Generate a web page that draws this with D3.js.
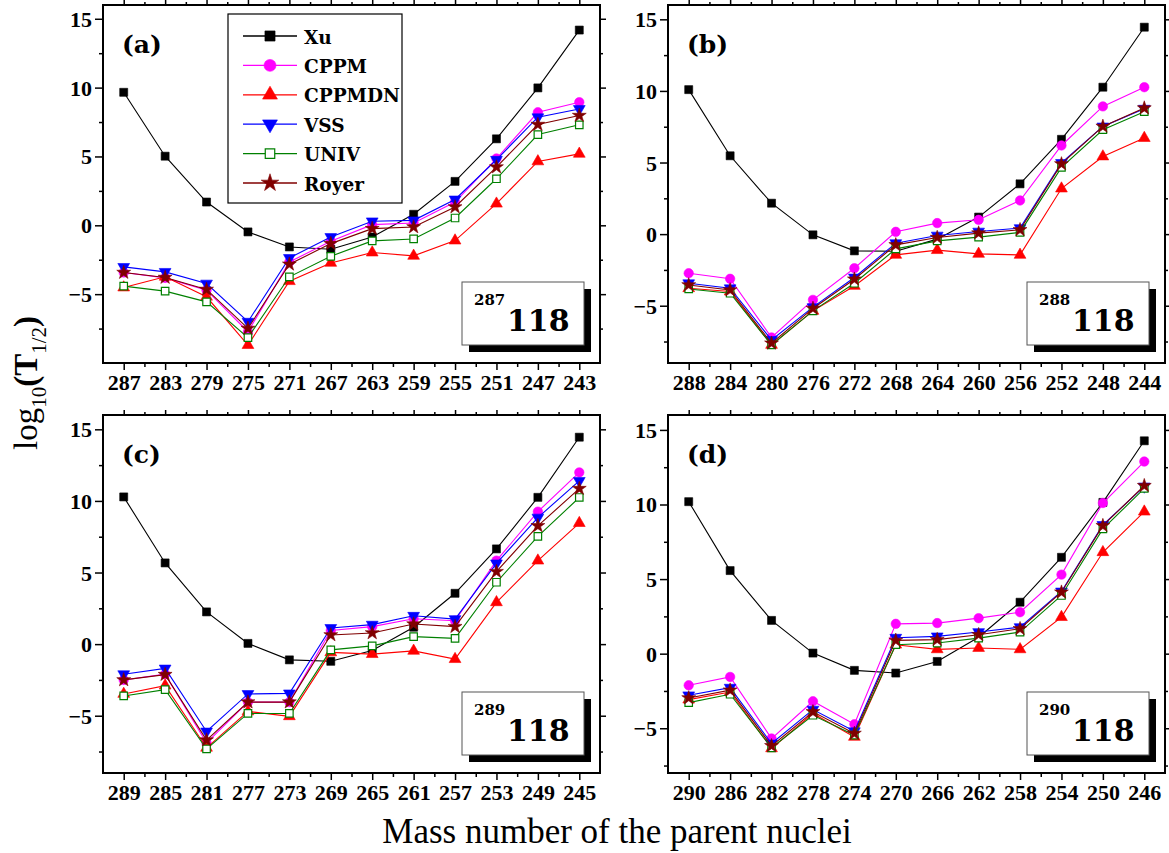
<!DOCTYPE html>
<html>
<head>
<meta charset="utf-8">
<script src="https://cdn.jsdelivr.net/npm/d3@7"></script>
<style>
  body { margin: 0; background: #fff; }
  svg { display: block; }
</style>
</head>
<body>
<svg id="chart" width="1169" height="853" font-family="Liberation Serif, DejaVu Serif, serif"></svg>
<script>
// mass numbers of the parent nuclei, one list per panel
const massA = [287, 283, 279, 275, 271, 267, 263, 259, 255, 251, 247, 243];
const massB = [288, 284, 280, 276, 272, 268, 264, 260, 256, 252, 248, 244];
const massC = [289, 285, 281, 277, 273, 269, 265, 261, 257, 253, 249, 245];
const massD = [290, 286, 282, 278, 274, 270, 266, 262, 258, 254, 250, 246];

// (a) 287-118
const xuA     = [9.66, 5.02, 1.69, -0.48, -1.57, -1.74, -0.85, 0.80, 3.19, 6.28, 9.98, 14.18];
const cppmA   = [-3.43, -3.82, -4.71, -7.73, -2.66, -1.16, 0.05, 0.17, 1.69, 4.85, 8.21, 8.94];
const cppmdnA = [-4.52, -3.74, -5.19, -8.70, -4.06, -2.73, -1.98, -2.22, -1.11, 1.57, 4.64, 5.19];
const vssA    = [-3.02, -3.38, -4.23, -7.00, -2.37, -0.85, 0.29, 0.36, 1.88, 4.76, 7.85, 8.45];
const univA   = [-4.42, -4.78, -5.56, -8.16, -3.74, -2.25, -1.13, -0.99, 0.53, 3.38, 6.59, 7.30];
const royerA  = [-3.43, -3.79, -4.66, -7.49, -2.83, -1.33, -0.24, -0.12, 1.33, 4.23, 7.32, 7.97];

// (b) 288-118
const xuB     = [10.09, 5.47, 2.16, -0.05, -1.17, -1.20, -0.35, 1.19, 3.51, 6.62, 10.26, 14.45];
const cppmB   = [-2.73, -3.12, -7.22, -4.59, -2.38, 0.16, 0.77, 1.00, 2.35, 6.19, 8.92, 10.26];
const cppmdnB = [-3.78, -4.01, -7.74, -5.36, -3.62, -1.45, -1.12, -1.38, -1.45, 3.18, 5.42, 6.71];
const vssB    = [-3.43, -3.78, -7.39, -5.10, -3.03, -0.63, -0.10, 0.18, 0.42, 4.97, 7.52, 8.76];
const univB   = [-3.83, -4.13, -7.74, -5.36, -3.43, -1.03, -0.47, -0.21, 0.12, 4.66, 7.29, 8.55];
const royerB  = [-3.55, -3.90, -7.62, -5.19, -3.15, -0.75, -0.24, 0.07, 0.30, 4.90, 7.52, 8.80];

// (c) 289-118
const xuC     = [10.28, 5.67, 2.25, 0.05, -1.10, -1.20, -0.45, 1.18, 3.55, 6.65, 10.25, 14.45];
const cppmC   = [-2.50, -2.10, -6.90, -4.05, -4.05, 0.95, 1.22, 1.77, 1.63, 5.83, 9.25, 11.99];
const cppmdnC = [-3.48, -2.90, -7.24, -4.70, -5.04, -0.58, -0.70, -0.47, -1.05, 2.92, 5.83, 8.45];
const vssC    = [-2.10, -1.70, -6.10, -3.48, -3.44, 1.13, 1.36, 1.98, 1.75, 5.64, 8.84, 11.40];
const univC   = [-3.62, -3.18, -7.32, -4.84, -4.84, -0.40, -0.12, 0.52, 0.40, 4.32, 7.52, 10.24];
const royerC  = [-2.50, -2.13, -6.70, -4.05, -4.05, 0.64, 0.78, 1.40, 1.22, 5.06, 8.26, 10.86];

// (d) 290-118
const xuD     = [10.19, 5.57, 2.23, 0.04, -1.12, -1.30, -0.52, 1.10, 3.45, 6.46, 10.14, 14.27];
const cppmD   = [-2.12, -1.56, -5.69, -3.19, -4.73, 2.00, 2.05, 2.38, 2.78, 5.30, 10.10, 12.88];
const cppmdnD = [-3.08, -2.57, -6.35, -4.01, -5.58, 0.60, 0.29, 0.38, 0.29, 2.45, 6.80, 9.52];
const vssD    = [-2.79, -2.28, -6.02, -3.75, -5.20, 1.07, 1.16, 1.45, 1.78, 4.17, 8.63, 11.21];
const univD   = [-3.28, -2.72, -6.31, -4.13, -5.46, 0.60, 0.71, 1.04, 1.45, 3.90, 8.36, 11.08];
const royerD  = [-2.97, -2.45, -6.18, -3.90, -5.35, 0.89, 0.94, 1.27, 1.67, 4.12, 8.58, 11.26];

const seriesNames = ["Xu", "CPPM", "CPPMDN", "VSS", "UNIV", "Royer"];
const yTicks = [-5, 0, 5, 10, 15];
const yMinorTicks = [-7.5, -2.5, 2.5, 7.5, 12.5];

const styles = {
  Xu:     { color: "#000000", shape: d3.symbolSquare,   size: 64, fill: true },
  CPPM:   { color: "#ff00ff", shape: d3.symbolCircle,   size: 70, fill: true },
  CPPMDN: { color: "#ff0000", shape: d3.symbolTriangle, size: 60, fill: true },
  VSS:    { color: "#0000ff", shape: d3.symbolTriangle, size: 60, fill: true, flip: true },
  UNIV:   { color: "#008000", shape: d3.symbolSquare,   size: 56, fill: false },
  Royer:  { color: "#800000", shape: d3.symbolStar,     size: 60, fill: true }
};

const panels = [
  { tag: "(a)", mass: massA, iso: "287", y: [-10, 16], x0: 103, y0: 5,
    data: [xuA, cppmA, cppmdnA, vssA, univA, royerA], legend: true },
  { tag: "(b)", mass: massB, iso: "288", y: [-9, 16], x0: 668, y0: 5,
    data: [xuB, cppmB, cppmdnB, vssB, univB, royerB] },
  { tag: "(c)", mass: massC, iso: "289", y: [-9, 16], x0: 103, y0: 415,
    data: [xuC, cppmC, cppmdnC, vssC, univC, royerC] },
  { tag: "(d)", mass: massD, iso: "290", y: [-8, 16], x0: 668, y0: 415,
    data: [xuD, cppmD, cppmdnD, vssD, univD, royerD] }
];

const W = 497, H = 358;
const svg = d3.select("#chart");
svg.append("rect").attr("width", 1169).attr("height", 853).attr("fill", "#fff");

function marker(sel, name, size) {
  const s = styles[name];
  sel.append("path")
    .attr("d", d3.symbol().type(s.shape).size(size || s.size)())
    .attr("transform", s.flip ? "rotate(180)" : null)
    .attr("fill", s.fill ? s.color : "#fff")
    .attr("stroke", s.color)
    .attr("stroke-width", s.fill ? 0.6 : 1.2);
}

panels.forEach(p => {
  const g = svg.append("g").attr("transform", `translate(${p.x0},${p.y0})`);
  const x = d3.scaleLinear().domain([-0.5, p.mass.length - 0.5]).range([0, W]);
  const y = d3.scaleLinear().domain(p.y).range([H, 0]);
  const idx = d3.range(p.mass.length);
  const minorX = d3.range(p.mass.length + 1).map(i => i - 0.5).slice(1, -1);

  // axes: labelled bottom/left, bare mirrored top/right
  g.append("g").attr("transform", `translate(0,${H})`)
    .call(d3.axisBottom(x).tickValues(idx).tickFormat(i => p.mass[i]).tickSize(7).tickPadding(4));
  g.append("g").attr("transform", `translate(0,${H})`)
    .call(d3.axisBottom(x).tickValues(minorX).tickFormat("").tickSize(4));
  g.append("g").call(d3.axisTop(x).tickValues(idx).tickFormat("").tickSize(5));
  g.append("g").call(d3.axisTop(x).tickValues(minorX).tickFormat("").tickSize(3));

  const left = g.append("g")
    .call(d3.axisLeft(y).tickValues(yTicks).tickFormat(d3.format("d")).tickSize(8).tickPadding(3));
  g.append("g").call(d3.axisLeft(y).tickValues(yMinorTicks).tickFormat("").tickSize(4));
  g.append("g").attr("transform", `translate(${W},0)`)
    .call(d3.axisRight(y).tickValues(yTicks).tickFormat("").tickSize(6));
  g.append("g").attr("transform", `translate(${W},0)`)
    .call(d3.axisRight(y).tickValues(yMinorTicks).tickFormat("").tickSize(3));

  g.selectAll(".domain").remove();
  g.selectAll(".tick line").attr("stroke", "#000").attr("stroke-width", 1.5);
  g.selectAll(".tick text").attr("font-family", "Liberation Serif").attr("font-weight", "bold")
    .attr("font-size", 22).attr("fill", "#000");
  left.selectAll(".tick text").attr("dy", "0.34em");

  g.append("rect").attr("width", W).attr("height", H)
    .attr("fill", "none").attr("stroke", "#000").attr("stroke-width", 2);

  // series: line then markers
  const line = d3.line().x((d, i) => x(i)).y(d => y(d));
  p.data.forEach((vals, k) => {
    const name = seriesNames[k];
    g.append("path").datum(vals).attr("d", line)
      .attr("fill", "none").attr("stroke", styles[name].color).attr("stroke-width", 1.1);
    g.selectAll(null).data(vals).enter().append("g")
      .attr("transform", (d, i) => `translate(${x(i)},${y(d)})`)
      .each(function () { marker(d3.select(this), name); });
  });

  g.append("text").attr("x", 19).attr("y", 48)
    .attr("font-family", "DejaVu Serif").attr("font-weight", "bold").attr("font-size", 25).text(p.tag);

  // nucleus box with drop shadow
  const bx = W - 16 - 122, by = H - 81;
  g.append("rect").attr("x", bx + 7).attr("y", by + 7).attr("width", 122).attr("height", 63).attr("fill", "#000");
  g.append("rect").attr("x", bx).attr("y", by).attr("width", 122).attr("height", 63)
    .attr("fill", "#fff").attr("stroke", "#555").attr("stroke-width", 1);
  g.append("text").attr("x", bx + 12).attr("y", by + 23)
    .attr("font-family", "DejaVu Serif").attr("font-weight", "bold").attr("font-size", 15).text(p.iso);
  g.append("text").attr("x", bx + 45).attr("y", by + 49)
    .attr("font-family", "DejaVu Serif").attr("font-weight", "bold").attr("font-size", 30).text("118");

  if (p.legend) {
    const lg = svg.append("g").attr("transform", "translate(228,14)");
    lg.append("rect").attr("width", 174).attr("height", 189)
      .attr("fill", "#fff").attr("stroke", "#000").attr("stroke-width", 1.2);
    seriesNames.forEach((name, k) => {
      const ry = 22 + k * 29.4;
      lg.append("line").attr("x1", 15).attr("x2", 69).attr("y1", ry).attr("y2", ry)
        .attr("stroke", styles[name].color).attr("stroke-width", 1.3);
      const m = lg.append("g").attr("transform", `translate(42,${ry})`);
      marker(m, name, styles[name].size * 1.6);
      lg.append("text").attr("x", 76).attr("y", ry + 7.5)
        .attr("font-family", "DejaVu Serif").attr("font-weight", "bold").attr("font-size", 18.5).text(name);
    });
  }
});

// axis titles
const yt = svg.append("text").attr("transform", "translate(37,383) rotate(-90)")
  .attr("text-anchor", "middle").attr("font-size", 33);
yt.append("tspan").text("log");
yt.append("tspan").attr("font-size", 21).attr("dy", 9).text("10");
yt.append("tspan").attr("font-weight", "bold").attr("dy", -9).text("(T");
yt.append("tspan").attr("font-size", 21).attr("dy", 9).text("1/2");
yt.append("tspan").attr("font-weight", "bold").attr("dy", -9).text(")");

svg.append("text").attr("x", 617).attr("y", 843).attr("text-anchor", "middle")
  .attr("font-size", 35).text("Mass number of the parent nuclei");
</script>
</body>
</html>
